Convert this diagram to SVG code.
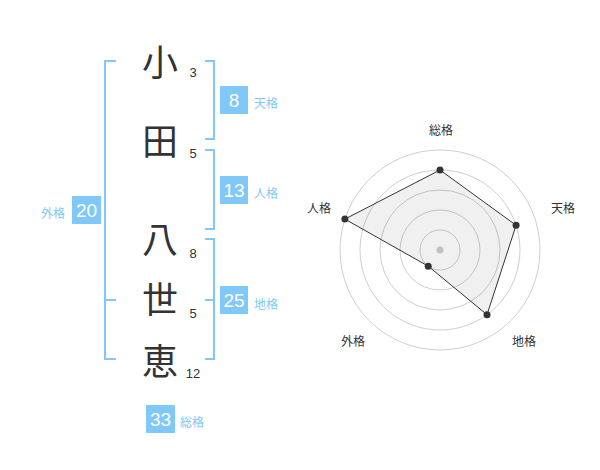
<svg xmlns="http://www.w3.org/2000/svg" width="600" height="470" viewBox="0 0 600 470">
<style>
.kanji{font-family:"Noto Sans CJK JP","Noto Sans CJK SC",sans-serif;font-size:36px;fill:#333;text-anchor:middle}
.num{font-family:"Liberation Sans",Arial,sans-serif;font-size:13px;fill:#333;text-anchor:middle}
.br{fill:none;stroke:#80c8f8;stroke-width:2}
.box{fill:#80c8f8}
.bnum{font-family:"Liberation Sans",Arial,sans-serif;font-size:19px;fill:#fff;text-anchor:middle}
.lbl{font-family:"Noto Sans CJK JP","Noto Sans CJK SC",sans-serif;font-size:12px;fill:#80c8f8}
.ring{fill:none;stroke:#cfcfcf;stroke-width:1}
.axl{font-family:"Noto Sans CJK JP","Noto Sans CJK SC",sans-serif;font-size:12px;fill:#333;text-anchor:middle}
.dot{fill:#333}
</style>
<rect width="600" height="470" fill="#fff"/>
<g id="connectors">
<path class="br" d="M116,61 H105 V359 H116 M105,300 H116"/>
<path class="br" d="M205,61 H214 V139 H205"/>
<path class="br" d="M205,150 H214 V229 H205"/>
<path class="br" d="M205,239 H214 V359 H205 M205,300 H214"/>
</g>
<g id="char-1"><text class="kanji" x="160" y="76">小</text><text class="num" x="193" y="77">3</text></g>
<g id="char-2"><text class="kanji" x="160" y="155">田</text><text class="num" x="193" y="158">5</text></g>
<g id="char-3"><text class="kanji" x="160" y="253">八</text><text class="num" x="193" y="258">8</text></g>
<g id="char-4"><text class="kanji" x="160" y="313">世</text><text class="num" x="193" y="318">5</text></g>
<g id="char-5"><text class="kanji" x="160" y="375">恵</text><text class="num" x="193" y="378">12</text></g>
<g id="tenkaku"><rect class="box" x="220" y="86" width="28" height="28"/><text class="bnum" x="234" y="107">8</text><text class="lbl" x="254" y="108">天格</text></g>
<g id="jinkaku"><rect class="box" x="220" y="176" width="28" height="28"/><text class="bnum" x="234" y="197">13</text><text class="lbl" x="254" y="198">人格</text></g>
<g id="chikaku"><rect class="box" x="220" y="286" width="28" height="28"/><text class="bnum" x="234" y="307">25</text><text class="lbl" x="254" y="309">地格</text></g>
<g id="gaikaku"><rect class="box" x="72" y="196" width="29" height="28"/><text class="bnum" x="86.5" y="217">20</text><text class="lbl" x="41" y="218">外格</text></g>
<g id="soukaku"><rect class="box" x="146" y="405" width="29" height="28"/><text class="bnum" x="160.5" y="426">33</text><text class="lbl" x="180" y="427">総格</text></g>
<g id="radar">
<circle class="ring" cx="440" cy="250" r="20"/>
<circle class="ring" cx="440" cy="250" r="40"/>
<circle class="ring" cx="440" cy="250" r="60"/>
<circle class="ring" cx="440" cy="250" r="80"/>
<circle class="ring" cx="440" cy="250" r="100"/>
<circle cx="440" cy="250" r="3.5" fill="#cccccc"/>
<polygon points="440,170 516.08,225.28 487.02,314.72 428.24,266.18 344.89,219.1" fill="#000" fill-opacity="0.06" stroke="#333" stroke-width="1"/>
<circle class="dot" cx="440" cy="170" r="3.5"/>
<circle class="dot" cx="516.08" cy="225.28" r="3.5"/>
<circle class="dot" cx="487.02" cy="314.72" r="3.5"/>
<circle class="dot" cx="428.24" cy="266.18" r="3.5"/>
<circle class="dot" cx="344.89" cy="219.1" r="3.5"/>
<text class="axl" x="441" y="135">総格</text>
<text class="axl" x="563" y="213">天格</text>
<text class="axl" x="319" y="213">人格</text>
<text class="axl" x="524" y="346">地格</text>
<text class="axl" x="353" y="346">外格</text>
</g>
</svg>
